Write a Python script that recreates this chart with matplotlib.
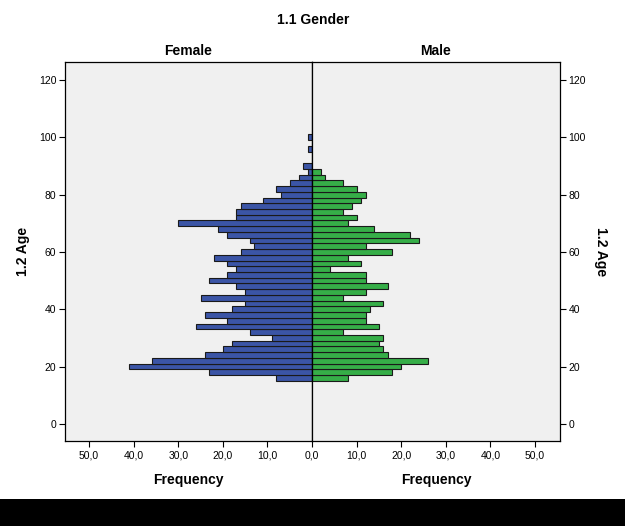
import matplotlib
matplotlib.use("Agg")
import matplotlib.pyplot as plt
from matplotlib.patches import Rectangle

plt.rcParams['font.family'] = ['Liberation Sans', 'DejaVu Sans']

# age bins (centre of each 2-year bin)
ages = [16, 18, 20, 22, 24, 26, 28, 30, 32, 34, 36, 38, 40, 42, 44,
        46, 48, 50, 52, 54, 56, 58, 60, 62, 64, 66, 68, 70, 72, 74,
        76, 78, 80, 82, 84, 86, 88, 90, 92, 94, 96, 98, 100]
female = [8, 23, 41, 36, 24, 20, 18, 9, 14, 26, 19, 24, 18, 15, 25,
          15, 17, 23, 19, 17, 19, 22, 16, 13, 14, 19, 21, 30, 17, 17,
          16, 11, 7, 8, 5, 3, 1, 2, 0, 0, 1, 0, 1]
male = [8, 18, 20, 26, 17, 16, 15, 16, 7, 15, 12, 12, 13, 16, 7,
        12, 17, 12, 12, 4, 11, 8, 18, 12, 24, 22, 14, 8, 10, 7,
        9, 11, 12, 10, 7, 3, 2, 0, 0, 0, 0, 0, 0]
y_ticks = [0, 20, 40, 60, 80, 100, 120]
x_ticks = [0, 10, 20, 30, 40, 50]

blue = '#3b55a6'
green = '#36ae48'
bg = '#f0f0f0'

fig = plt.figure(figsize=(6.25, 5.26), dpi=100)
axf = fig.add_axes([0.1034, 0.1616, 0.3958, 0.7205])
axm = fig.add_axes([0.4992, 0.1616, 0.3968, 0.7205], sharey=axf)

fa = [a for a, v in zip(ages, female) if v > 0]
fv = [v for v in female if v > 0]
ma = [a for a, v in zip(ages, male) if v > 0]
mv = [v for v in male if v > 0]
axf.barh(fa, fv, height=2, color=blue, edgecolor='#1a1a1a', linewidth=0.8)
axm.barh(ma, mv, height=2, color=green, edgecolor='#1a1a1a', linewidth=0.8)

axf.set_xlim(55.5, 0)
axm.set_xlim(0, 55.6)
axf.set_ylim(-6.0, 126.3)

for ax in (axf, axm):
    ax.set_facecolor(bg)
    for s in ax.spines.values():
        s.set_linewidth(0.9)
        s.set_color('black')
    ax.tick_params(axis='both', direction='out', length=4, width=0.8,
                   labelsize=7.5, pad=2)
    ax.tick_params(axis='x', pad=3)
    ax.set_yticks(y_ticks)
    ax.set_xlabel('Frequency', fontsize=10, fontweight='bold', labelpad=8.5)

axf.set_xticks(x_ticks)
axf.set_xticklabels([f'{v:.1f}'.replace('.', ',') for v in x_ticks])
axm.set_xticks(x_ticks[1:])
axm.set_xticklabels([f'{v:.1f}'.replace('.', ',') for v in x_ticks[1:]])

axf.yaxis.set_ticks_position('left')
axm.yaxis.set_ticks_position('right')
axm.tick_params(axis='y', labelleft=False, labelright=True)

axf.set_ylabel('1.2 Age', fontsize=10, fontweight='bold', labelpad=6)
axm.yaxis.set_label_position('right')
axm.set_ylabel('1.2 Age', fontsize=10, fontweight='bold', labelpad=6,
               rotation=270, va='bottom')

axf.set_title('Female', fontsize=10, fontweight='bold', pad=5)
axm.set_title('Male', fontsize=10, fontweight='bold', pad=5)
fig.text(0.501, 0.962, '1.1 Gender', ha='center', va='center',
         fontsize=10, fontweight='bold')

# dark strip along the bottom of the image
fig.patches.append(Rectangle((0, 0), 1, 27 / 526, transform=fig.transFigure,
                             facecolor='black', edgecolor='none', zorder=-1))

fig.savefig('out.png', dpi=100)
